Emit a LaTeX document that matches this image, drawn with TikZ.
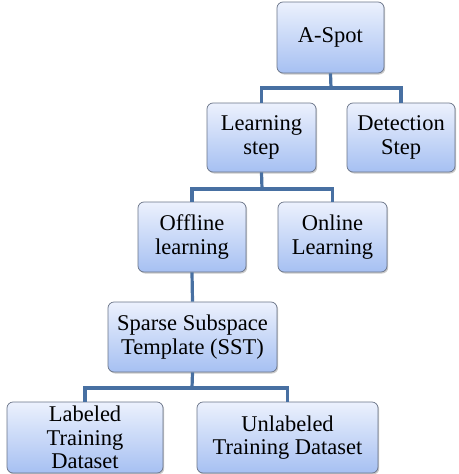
\documentclass[tikz,border=0pt]{standalone}
\usepackage{fontspec}
\setmainfont{Liberation Serif}
\usetikzlibrary{shadows}
\definecolor{boxtop}{RGB}{236,241,253}
\definecolor{boxbot}{RGB}{166,192,242}
\definecolor{boxline}{RGB}{105,115,135}
\definecolor{linkc}{RGB}{72,112,162}
\tikzset{
  box/.style={draw=boxline, line width=0.7pt, rounded corners=6pt,
    top color=boxtop, bottom color=boxbot, align=center,
    font=\rmfamily\fontsize{22.5}{23.5}\selectfont, inner sep=1pt,
    drop shadow={shadow xshift=1.2pt, shadow yshift=-1.5pt, opacity=0.35, fill=black!60}},
  link/.style={draw=linkc, line width=3.2pt}
}
\begin{document}
\begin{tikzpicture}[x=1pt,y=-1pt]
\useasboundingbox (0,0) rectangle (458,474);
\coordinate (j1) at (331,88);
\coordinate (j2) at (262,189);
\coordinate (j4) at (192,388);
\node[box, minimum width=107pt, minimum height=71pt] (aspot) at (330.5,37.5) {A-Spot};
\node[box, minimum width=109pt, minimum height=69pt] (learn) at (261.5,137.5) {Learning\\step};
\node[box, minimum width=108pt, minimum height=69pt] (detect) at (401,137.5) {Detection\\Step};
\node[box, minimum width=108pt, minimum height=70pt] (offline) at (192,237) {Offline\\learning};
\node[box, minimum width=109pt, minimum height=70pt] (online) at (332.5,237) {Online\\Learning};
\node[box, minimum width=169pt, minimum height=70pt] (sst) at (192.5,337) {Sparse Subspace\\Template (SST)};
\node[box, minimum width=156pt, minimum height=71pt] (labeled) at (85,437.5) {Labeled\\Training\\Dataset};
\node[box, minimum width=181pt, minimum height=71pt] (unlabeled) at (287.5,437.5) {Unlabeled\\Training Dataset};
\draw[link] (aspot.south) -- (j1);
\draw[link] (j1) -| (learn.north);
\draw[link] (j1) -| (detect.north);
\draw[link] (learn.south) -- (j2);
\draw[link] (j2) -| (offline.north);
\draw[link] (j2) -| (online.north);
\draw[link] (offline.south) -- (sst.north);
\draw[link] (sst.south) -- (j4);
\draw[link] (j4) -| (labeled.north);
\draw[link] (j4) -| (unlabeled.north);
\end{tikzpicture}
\end{document}
